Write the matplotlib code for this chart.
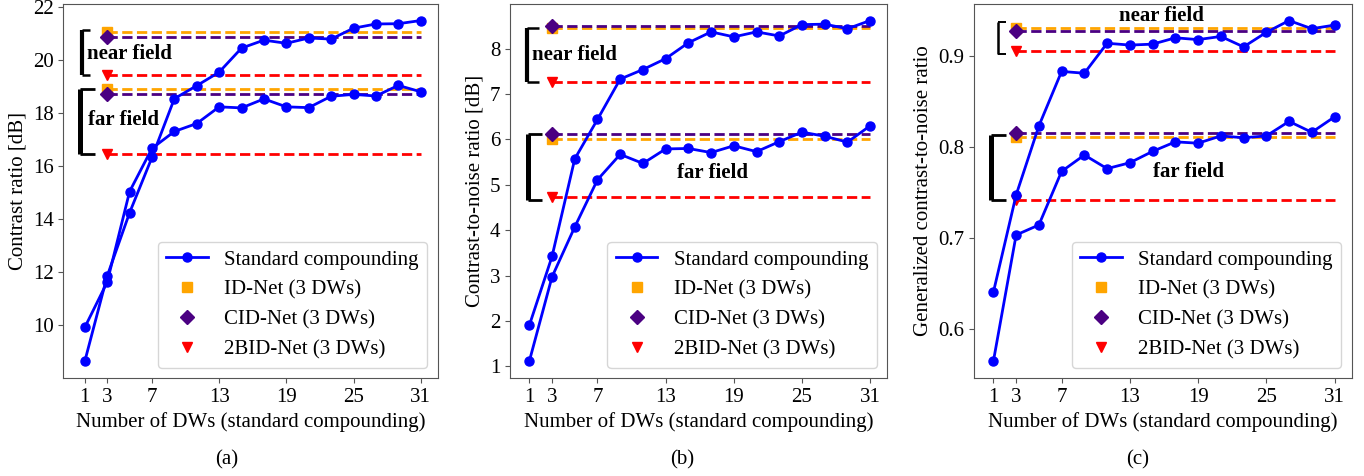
import matplotlib
matplotlib.use('Agg')
import matplotlib.pyplot as plt
from matplotlib.lines import Line2D

plt.rcParams['font.family'] = ['Liberation Serif', 'DejaVu Serif']
plt.rcParams['font.size'] = 15
plt.rcParams['axes.edgecolor'] = '#555555'
plt.rcParams['xtick.color'] = '#555555'
plt.rcParams['ytick.color'] = '#555555'
plt.rcParams['xtick.labelcolor'] = 'black'
plt.rcParams['ytick.labelcolor'] = 'black'

# ---------------- data ----------------
dws = [1, 3, 5, 7, 9, 11, 13, 15, 17, 19, 21, 23, 25, 27, 29, 31]
xticks = [1, 3, 7, 13, 19, 25, 31]
net_dw = 3
net_end = 31

# (a) contrast ratio [dB]
cr_near = [8.63, 11.85, 14.24, 16.33, 18.55, 19.04, 19.55, 20.46, 20.76, 20.64,
           20.84, 20.80, 21.21, 21.37, 21.38, 21.50]
cr_far = [9.91, 11.62, 15.04, 16.67, 17.31, 17.61, 18.24, 18.20, 18.54, 18.24,
          18.21, 18.64, 18.71, 18.65, 19.05, 18.81]
cr_id = [21.06, 18.90]     # near, far
cr_cid = [20.86, 18.71]
cr_2bid = [19.46, 16.46]

# (b) contrast-to-noise ratio [dB]
cnr_near = [1.90, 3.42, 5.57, 6.44, 7.33, 7.54, 7.78, 8.13, 8.37, 8.26,
            8.37, 8.28, 8.53, 8.54, 8.44, 8.62]
cnr_far = [1.11, 2.97, 4.07, 5.11, 5.67, 5.47, 5.79, 5.80, 5.71, 5.86,
           5.73, 5.95, 6.16, 6.07, 5.94, 6.30]
cnr_id = [8.46, 6.00]
cnr_cid = [8.49, 6.12]
cnr_2bid = [7.27, 4.73]

# (c) generalized contrast-to-noise ratio
gcnr_near = [0.640, 0.747, 0.823, 0.883, 0.881, 0.914, 0.912, 0.913, 0.920, 0.918,
             0.9215, 0.910, 0.926, 0.939, 0.930, 0.934]
gcnr_far = [0.564, 0.703, 0.714, 0.773, 0.791, 0.776, 0.7825, 0.795, 0.8055, 0.804,
            0.812, 0.810, 0.812, 0.828, 0.816, 0.833]
gcnr_id = [0.931, 0.811]
gcnr_cid = [0.927, 0.815]
gcnr_2bid = [0.906, 0.741]

ylabels = ['Contrast ratio [dB]', 'Contrast-to-noise ratio [dB]',
           'Generalized contrast-to-noise ratio']
yticks = [[10, 12, 14, 16, 18, 20, 22], [1, 2, 3, 4, 5, 6, 7, 8], [0.6, 0.7, 0.8, 0.9]]
captions = ['(a)', '(b)', '(c)']
xlabel = 'Number of DWs (standard compounding)'
labels = ['Standard compounding', 'ID-Net (3 DWs)', 'CID-Net (3 DWs)', '2BID-Net (3 DWs)']

# annotation text positions (x, baseline y) for near / far
near_txt = [(4.96, 20.05), (5.0, 7.745), (15.77, 0.9382)]
far_txt = [(4.43, 17.55), (17.15, 5.143), (18.16, 0.7665)]
# brackets: (x of stem, x of arm end, y top, y bottom, stem lw, arm lw)
brackets = [
    [(0.74, 1.44, 21.15, 19.46, 3.0, 1.8), (0.60, 1.88, 18.91, 16.46, 3.6, 2.0)],
    [(0.81, 1.81, 8.455, 7.26, 3.0, 1.8), (0.92, 2.16, 6.125, 4.67, 3.6, 2.0)],
    [(1.38, 2.08, 0.9374, 0.9025, 1.8, 1.4), (0.83, 2.08, 0.8131, 0.7419, 3.6, 2.0)],
]

panels = [
    (cr_near, cr_far, cr_id, cr_cid, cr_2bid),
    (cnr_near, cnr_far, cnr_id, cnr_cid, cnr_2bid),
    (gcnr_near, gcnr_far, gcnr_id, gcnr_cid, gcnr_2bid),
]

# ---------------- layout ----------------
W, H = 1364, 476
fig = plt.figure(figsize=(W / 100, H / 100), dpi=100)
axes_px = [(63.3, 437.7), (510.0, 887.3), (974.3, 1351.7)]
top_px, bot_px = 3.5, 378.3
caption_x = [227, 682, 1138]

blue = '#0000ff'
c_id = '#ffa500'
c_cid = '#4b0082'
c_2bid = '#ff0000'

for i, (near, far, vid, vcid, v2bid) in enumerate(panels):
    l, r = axes_px[i]
    ax = fig.add_axes([l / W, (H - bot_px) / H, (r - l) / W, (bot_px - top_px) / H])

    for k in range(2):
        ax.plot([net_dw, net_end], [vid[k], vid[k]], ls='--', lw=2, color=c_id, zorder=2)
        ax.plot([net_dw, net_end], [vcid[k], vcid[k]], ls='--', lw=2, color=c_cid, zorder=2)
        ax.plot([net_dw, net_end], [v2bid[k], v2bid[k]], ls='--', lw=2, color=c_2bid, zorder=2)

    ax.plot(dws, near, '-o', color=blue, lw=2, ms=6.5, zorder=4, label=labels[0])
    ax.plot(dws, far, '-o', color=blue, lw=2, ms=6.5, zorder=4)

    for k in range(2):
        ax.plot([net_dw], [vid[k]], ls='none', marker='s', color=c_id, ms=7, zorder=3,
                label=labels[1] if k == 0 else None)
        ax.plot([net_dw], [vcid[k]], ls='none', marker='D', color=c_cid, ms=7, zorder=3,
                label=labels[2] if k == 0 else None)
        ax.plot([net_dw], [v2bid[k]], ls='none', marker='v', color=c_2bid, ms=7, zorder=3,
                label=labels[3] if k == 0 else None)

    ax.text(near_txt[i][0], near_txt[i][1], 'near field', ha='center', va='baseline',
            fontweight='bold', fontsize=15, zorder=5)
    ax.text(far_txt[i][0], far_txt[i][1], 'far field', ha='center', va='baseline',
            fontweight='bold', fontsize=15, zorder=5)

    for (xs, xa, yt, yb, lwv, lwh) in brackets[i]:
        ax.add_line(Line2D([xs, xs], [yb, yt], color='black', lw=lwv,
                           solid_capstyle='butt', zorder=5))
        ax.add_line(Line2D([xs, xa], [yt, yt], color='black', lw=lwh,
                           solid_capstyle='butt', zorder=5))
        ax.add_line(Line2D([xs, xa], [yb, yb], color='black', lw=lwh,
                           solid_capstyle='butt', zorder=5))

    ax.set_xticks(xticks)
    ax.set_yticks(yticks[i])
    ax.set_xlabel(xlabel)
    ax.set_ylabel(ylabels[i])
    ax.legend(loc='lower right', fontsize=15)

    fig.text(caption_x[i] / W, 1 - 460 / H, captions[i], ha='center', va='center', fontsize=15)

fig.savefig('out.png', dpi=100)
